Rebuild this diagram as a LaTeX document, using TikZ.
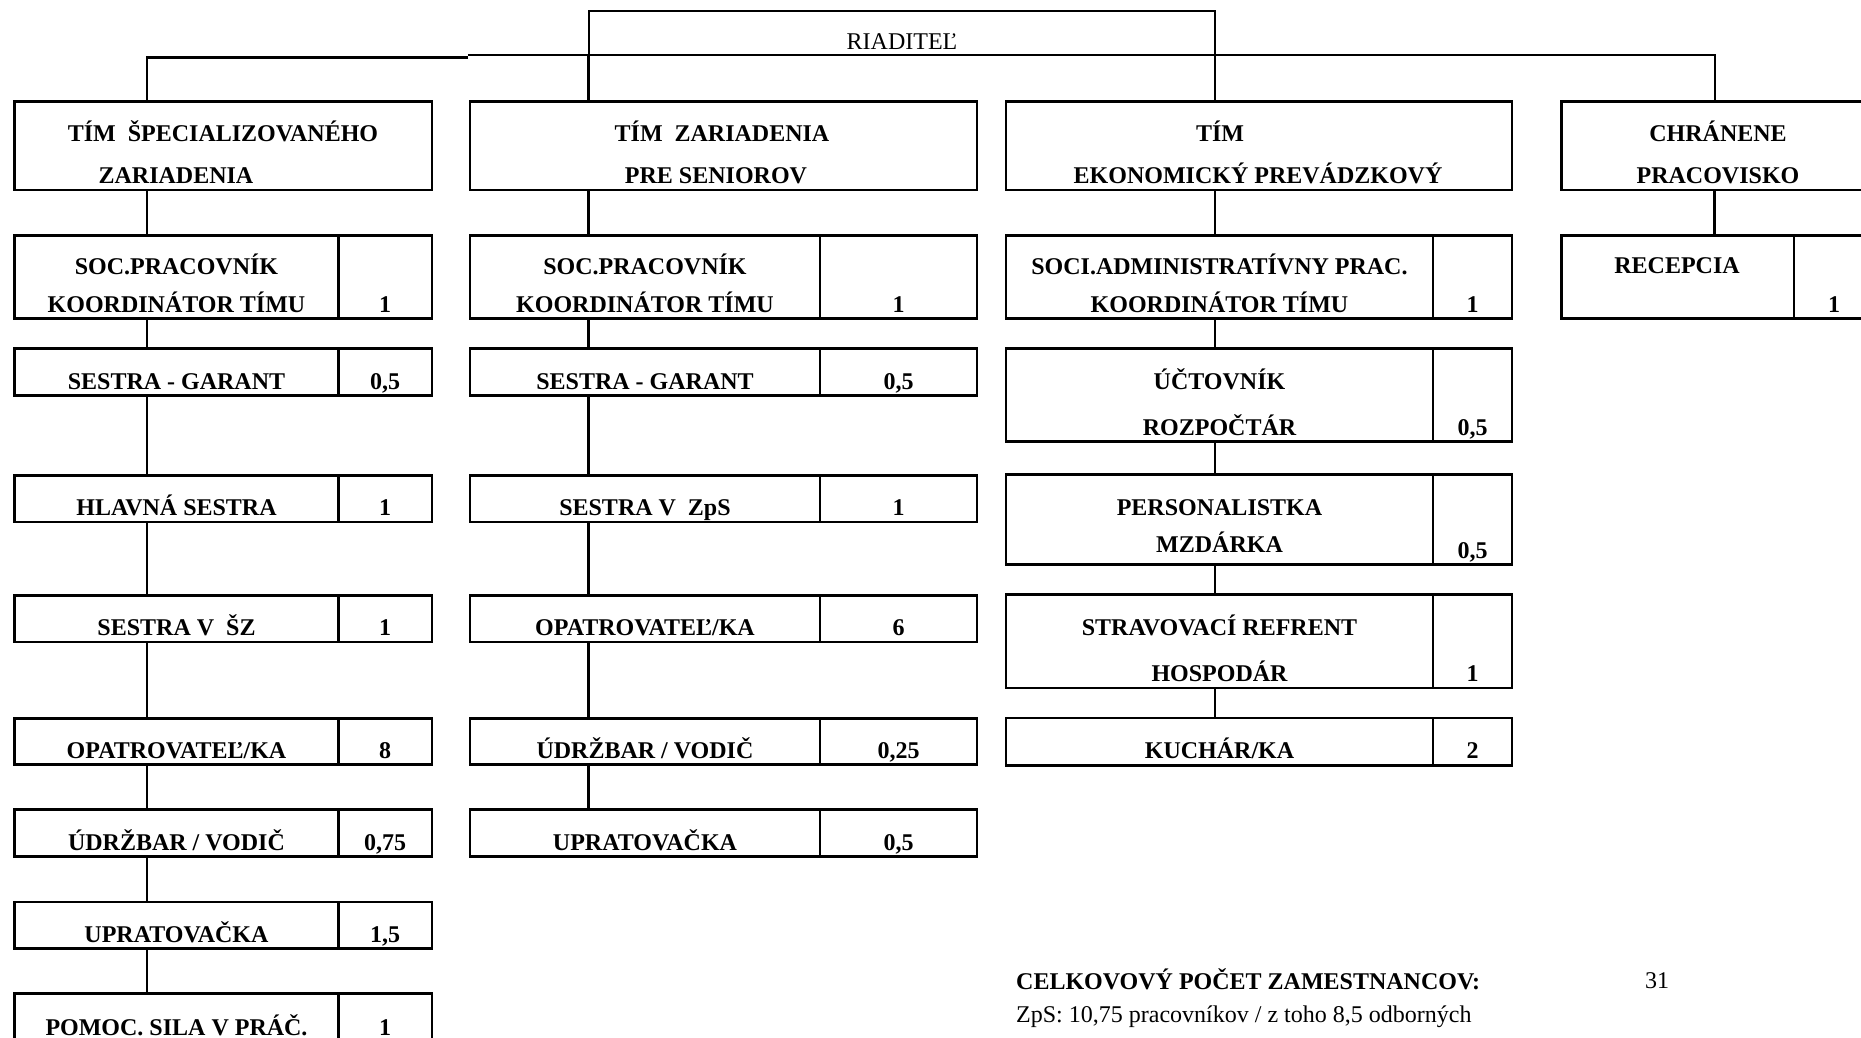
\documentclass[tikz,border=0pt]{standalone}
\usepackage{fontspec}
\setmainfont{Liberation Serif}
\tikzset{
  box/.style={draw, rectangle, line width=2.7pt, inner sep=0pt, outer sep=0pt},
  conn/.style={line width=2.7pt},
  thinconn/.style={line width=2pt},
  bt/.style={anchor=base, inner sep=0pt, font=\fontsize{24}{28}\selectfont\bfseries},
  rt/.style={anchor=base, inner sep=0pt, font=\fontsize{24}{28}\selectfont},
}
\newcommand\orgbox[5]{\node[box, minimum width={(#4)-(#2)}, minimum height={(#5)-(#3)}] (#1) at ({((#2)+(#4))/2},{((#3)+(#5))/2}) {};}
\newcommand\divbox[6]{\orgbox{#1}{#2}{#3}{#4}{#5}\draw[conn] (#6,#3) -- (#6,#5);}
\begin{document}
\begin{tikzpicture}[x=1pt,y=-1pt]
\useasboundingbox (0,0) rectangle (1861,1038);
\clip (0,0) rectangle (1861,1038);
\fill[white] (0,0) rectangle (1861,1038);

% column connector x positions
\coordinate (x1) at (147,0);
\coordinate (x4) at (1714.5,0);

% director
\node[draw, rectangle, line width=2pt, inner sep=0pt, outer sep=0pt, minimum width=626.5, minimum height=44.3] (riad) at (901.75,33.15) {};
\node[rt] (riadt) at (902,50) {RIADITEĽ};

% team boxes
\orgbox{c1t}{14.5}{101.5}{432}{190}
\orgbox{c2t}{470}{101.5}{977}{190}
\orgbox{c3t}{1006}{101.5}{1512}{190}
\orgbox{c4t}{1561.5}{101.5}{1868}{190}

% coordinator boxes
\divbox{c1a}{14.5}{235.5}{432}{318.3}{338.5}
\divbox{c2a}{470}{235.5}{977}{318.3}{820}
\divbox{c3a}{1006}{235.5}{1512}{318.3}{1433}
\divbox{c4a}{1561.5}{235.5}{1868}{318.3}{1794}

% column 1
\divbox{c1b}{14.5}{348.7}{432}{395.3}{338.5}
\divbox{c1c}{14.5}{475.3}{432}{522}{338.5}
\divbox{c1d}{14.5}{595.3}{432}{642}{338.5}
\divbox{c1e}{14.5}{718.7}{432}{764.3}{338.5}
\divbox{c1f}{14.5}{809.7}{432}{856.3}{338.5}
\divbox{c1g}{14.5}{902}{432}{948.7}{338.5}
\divbox{c1h}{14.5}{993.5}{432}{1040.5}{338.5}

% column 2
\divbox{c2b}{470}{348.7}{977}{395.3}{820}
\divbox{c2c}{470}{475.3}{977}{522}{820}
\divbox{c2d}{470}{595.3}{977}{642}{820}
\divbox{c2e}{470}{718.7}{977}{764.3}{820}
\divbox{c2f}{470}{809.7}{977}{856.3}{820}

% column 3
\divbox{c3b}{1006}{348.7}{1512}{441.3}{1433}
\divbox{c3c}{1006}{474.7}{1512}{564.7}{1433}
\divbox{c3d}{1006}{594.7}{1512}{688}{1433}
\divbox{c3e}{1006}{718}{1512}{765.3}{1433}

% main connectors
\coordinate (brkl) at (468,57.3);
\coordinate (brkr) at (468,55.3);
\draw[conn] (brkl) -| (x1 |- c1t.north);
\draw[thinconn] (brkr) -| (x4 |- c4t.north);
\draw[conn] (riad.south west) -- (riad.south west |- c2t.north);
\draw[conn] (riad.south east) -- (riad.south east |- c3t.north);

% column chains
\foreach \a/\b in {c1t/c1a,c1a/c1b,c1b/c1c,c1c/c1d,c1d/c1e,c1e/c1f,c1f/c1g,c1g/c1h}
  \draw[conn] (x1 |- \a.south) -- (x1 |- \b.north);
\foreach \a/\b in {c2t/c2a,c2a/c2b,c2b/c2c,c2c/c2d,c2d/c2e,c2e/c2f}
  \draw[conn] (riad.south west |- \a.south) -- (riad.south west |- \b.north);
\foreach \a/\b in {c3t/c3a,c3a/c3b,c3b/c3c,c3c/c3d,c3d/c3e}
  \draw[conn] (riad.south east |- \a.south) -- (riad.south east |- \b.north);
\draw[conn] (x4 |- c4t.south) -- (x4 |- c4a.north);

% column 1 texts
\node[bt] (c1t1) at (223,142) {TÍM\ \ ŠPECIALIZOVANÉHO};
\node[bt] (c1t2) at (176,183) {ZARIADENIA};
\node[bt] (c1a1) at (176.5,274) {SOC.PRACOVNÍK};
\node[bt] (c1a2) at (176.5,312) {KOORDINÁTOR TÍMU};
\node[bt] (c1an) at (385,312) {1};
\node[bt] (c1b1) at (176.5,389) {SESTRA - GARANT};
\node[bt] (c1bn) at (385,389) {0,5};
\node[bt] (c1c1) at (176.5,515.5) {HLAVNÁ SESTRA};
\node[bt] (c1cn) at (385,515.5) {1};
\node[bt] (c1d1) at (176.5,635.5) {SESTRA V\ \ ŠZ};
\node[bt] (c1dn) at (385,635.5) {1};
\node[bt] (c1e1) at (176.5,758) {OPATROVATEĽ/KA};
\node[bt] (c1en) at (385,758) {8};
\node[bt] (c1f1) at (176.5,850) {ÚDRŽBAR / VODIČ};
\node[bt] (c1fn) at (385,850) {0,75};
\node[bt] (c1g1) at (176.5,942) {UPRATOVAČKA};
\node[bt] (c1gn) at (385,942) {1,5};
\node[bt] (c1h1) at (176.5,1035) {POMOC. SILA V PRÁČ.};
\node[bt] (c1hn) at (385,1035) {1};

% column 2 texts
\node[bt] (c2t1) at (722,142) {TÍM\ \ ZARIADENIA};
\node[bt] (c2t2) at (716,183) {PRE SENIOROV};
\node[bt] (c2a1) at (645,274) {SOC.PRACOVNÍK};
\node[bt] (c2a2) at (645,312) {KOORDINÁTOR TÍMU};
\node[bt] (c2an) at (898.5,312) {1};
\node[bt] (c2b1) at (645,389) {SESTRA - GARANT};
\node[bt] (c2bn) at (898.5,389) {0,5};
\node[bt] (c2c1) at (645,515.5) {SESTRA V\ \ ZpS};
\node[bt] (c2cn) at (898.5,515.5) {1};
\node[bt] (c2d1) at (645,635.5) {OPATROVATEĽ/KA};
\node[bt] (c2dn) at (898.5,635.5) {6};
\node[bt] (c2e1) at (645,758) {ÚDRŽBAR / VODIČ};
\node[bt] (c2en) at (898.5,758) {0,25};
\node[bt] (c2f1) at (645,850) {UPRATOVAČKA};
\node[bt] (c2fn) at (898.5,850) {0,5};

% column 3 texts
\node[bt] (c3t1) at (1220,142) {TÍM};
\node[bt] (c3t2) at (1258,183) {EKONOMICKÝ PREVÁDZKOVÝ};
\node[bt] (c3a1) at (1219.5,274) {SOCI.ADMINISTRATÍVNY PRAC.};
\node[bt] (c3a2) at (1219.5,312) {KOORDINÁTOR TÍMU};
\node[bt] (c3an) at (1472.5,312) {1};
\node[bt] (c3b1) at (1219.5,389) {ÚČTOVNÍK};
\node[bt] (c3b2) at (1219.5,435) {ROZPOČTÁR};
\node[bt] (c3bn) at (1472.5,435) {0,5};
\node[bt] (c3c1) at (1219.5,515) {PERSONALISTKA};
\node[bt] (c3c2) at (1219.5,552) {MZDÁRKA};
\node[bt] (c3cn) at (1472.5,558) {0,5};
\node[bt] (c3d1) at (1219.5,635) {STRAVOVACÍ REFRENT};
\node[bt] (c3d2) at (1219.5,681) {HOSPODÁR};
\node[bt] (c3dn) at (1472.5,681) {1};
\node[bt] (c3e1) at (1219.5,758) {KUCHÁR/KA};
\node[bt] (c3en) at (1472.5,758) {2};

% column 4 texts
\node[bt] (c4t1) at (1718,142) {CHRÁNENE};
\node[bt] (c4t2) at (1718,183) {PRACOVISKO};
\node[bt] (c4a1) at (1677,273) {RECEPCIA};
\node[bt] (c4an) at (1834,312) {1};

% totals
\node[bt, anchor=base west] (tot) at (1016,989) {CELKOVOVÝ POČET ZAMESTNANCOV:};
\node[rt] (totn) at (1657,988) {31};
\node[rt, anchor=base west] (zps) at (1016,1022) {ZpS: 10,75 pracovníkov / z toho 8,5 odborných};
\end{tikzpicture}
\end{document}
